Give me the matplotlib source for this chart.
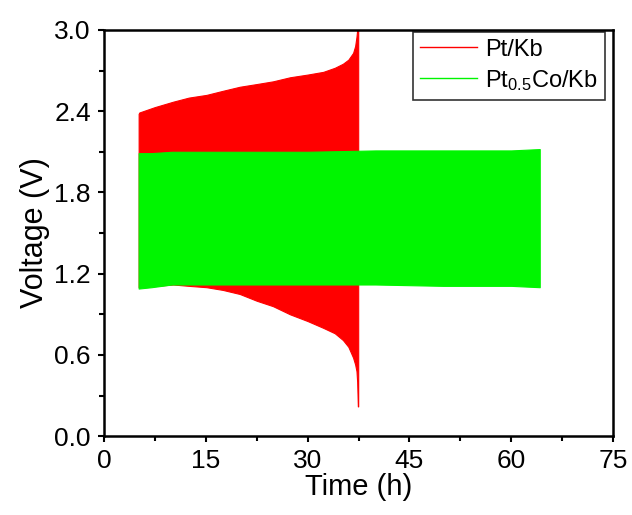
import matplotlib
matplotlib.use("Agg")
import matplotlib.pyplot as plt
from matplotlib.lines import Line2D

plt.rcParams['font.family'] = ['Liberation Sans', 'DejaVu Sans']
plt.rcParams['mathtext.fontset'] = 'custom'
plt.rcParams['mathtext.rm'] = 'Liberation Sans'
plt.rcParams['mathtext.default'] = 'regular'

# Pt/Kb envelope (time h, upper V, lower V)
pt_time = [5.1, 5.2, 7.5, 10.2, 12.5, 15.1, 17.5, 20.0, 22.5, 24.9, 27.4, 30.0, 32.3, 34.0, 35.2, 36.0, 36.7, 37.0, 37.2, 37.3, 37.4, 37.45]
pt_upper = [2.38, 2.39, 2.43, 2.47, 2.50, 2.52, 2.55, 2.58, 2.60, 2.62, 2.65, 2.67, 2.69, 2.72, 2.75, 2.78, 2.83, 2.88, 2.95, 3.00, 3.00, 3.00]
pt_lower = [1.10, 1.10, 1.11, 1.12, 1.11, 1.10, 1.08, 1.05, 1.00, 0.96, 0.90, 0.85, 0.80, 0.76, 0.71, 0.66, 0.58, 0.53, 0.48, 0.40, 0.22, 0.22]

# Pt0.5Co/Kb envelope
co_time = [5.1, 7.0, 10.0, 20.0, 30.0, 40.0, 50.0, 60.0, 64.2]
co_upper = [2.09, 2.09, 2.10, 2.10, 2.10, 2.11, 2.11, 2.11, 2.12]
co_lower = [1.09, 1.10, 1.12, 1.12, 1.12, 1.12, 1.11, 1.11, 1.10]

labels = ['Pt/Kb', 'Pt$_{0.5}$Co/Kb']
colors = ['#ff0000', '#00f500']

fig = plt.figure(figsize=(6.32, 5.15), dpi=100)
ax = fig.add_axes([0.1646, 0.153, 0.8054, 0.789])

ax.fill_between(pt_time, pt_lower, pt_upper, color=colors[0], linewidth=0.8, edgecolor=colors[0])
ax.fill_between(co_time, co_lower, co_upper, color=colors[1], linewidth=0.8, edgecolor=colors[1])

ax.set_xlim(0, 75)
ax.set_ylim(0, 3.0)
ax.set_xticks([0, 15, 30, 45, 60, 75])
ax.set_yticks([0.0, 0.6, 1.2, 1.8, 2.4, 3.0])
ax.set_yticklabels(['0.0', '0.6', '1.2', '1.8', '2.4', '3.0'])
ax.set_xticks([7.5, 22.5, 37.5, 52.5, 67.5], minor=True)
ax.set_yticks([0.3, 0.9, 1.5, 2.1, 2.7], minor=True)
ax.tick_params(which='major', direction='out', length=4.5, width=1.5, labelsize=19, pad=5,
               top=False, right=False)
ax.tick_params(which='minor', direction='out', length=3.5, width=1.5, top=False, right=False)
for s in ax.spines.values():
    s.set_linewidth(1.8)

ax.set_xlabel('Time (h)', fontsize=21, labelpad=0)
ax.set_ylabel('Voltage (V)', fontsize=22, labelpad=3)

handles = [Line2D([0], [0], color=c, lw=1.0) for c in colors]
leg = ax.legend(handles, labels, loc='upper right', fontsize=17, frameon=True, fancybox=False,
                edgecolor='black', handlelength=2.4, borderpad=0.3, labelspacing=0.3,
                handletextpad=0.35, borderaxespad=0.0,
                bbox_to_anchor=(605 / 632, (515 - 31.5) / 515), bbox_transform=fig.transFigure)
leg.get_frame().set_linewidth(1.2)

fig.savefig('out.png', dpi=100)
